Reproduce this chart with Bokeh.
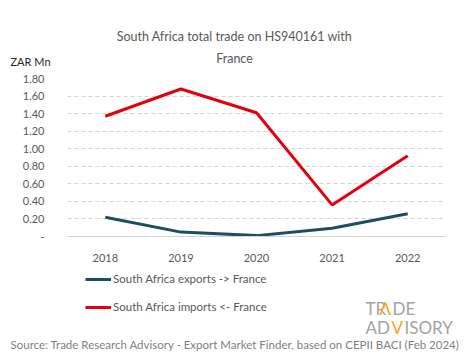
from bokeh.plotting import figure
from bokeh.models import (FactorRange, Range1d, Legend, LegendItem, Label,
                          FixedTicker, ColumnDataSource)
from bokeh.layouts import column
from bokeh.embed import file_html
from bokeh.resources import INLINE

# ---- data ----
years = ["2018", "2019", "2020", "2021", "2022"]
exports = [0.22, 0.05, 0.01, 0.095, 0.26]
imports = [1.37, 1.68, 1.41, 0.36, 0.92]
y_ticks = [0, 0.2, 0.4, 0.6, 0.8, 1.0, 1.2, 1.4, 1.6, 1.8]
y_tick_labels = ["-", "0.20", "0.40", "0.60", "0.80", "1.00", "1.20", "1.40", "1.60", "1.80"]
series_names = ["South Africa exports -> France", "South Africa imports <- France"]
title_lines = ["South Africa total trade on HS940161 with", "France"]
unit_label = "ZAR Mn"
source_text = "Source: Trade Research Advisory - Export Market Finder, based on CEPII BACI (Feb 2024)"

FONT = "Lato"
EXP_C = "#1B4E62"
IMP_C = "#E3000F"
TXT = "#595959"
W = 465


def no_align(f):
    try:
        f.frame_align = False
    except Exception:
        pass


def blank(h, **kw):
    f = figure(width=W, height=h, output_backend="svg", toolbar_location=None,
               x_axis_type=None, y_axis_type=None,
               min_border=0, min_border_left=0, min_border_right=0,
               min_border_top=0, min_border_bottom=0, **kw)
    f.outline_line_color = None
    f.xgrid.visible = False
    f.ygrid.visible = False
    no_align(f)
    return f


def lab(f, text, x, y, size, color, align="left", baseline="middle"):
    f.add_layout(Label(x=x, y=y, x_units="screen", y_units="screen", text=text,
                       text_font=FONT, text_font_size=size, text_color=color,
                       text_align=align, text_baseline=baseline))


src = ColumnDataSource(dict(x=years, exp=exports, imp=imports))

# ---- header ----
HH = 70
head = blank(HH)
lab(head, title_lines[0], 234, HH - 36, "12.5px", TXT, "center")
lab(head, title_lines[1], 234, HH - 58, "12.5px", TXT, "center")
lab(head, unit_label, 10, HH - 61, "11px", "#262626")

# ---- chart ----
CH = 194
p = figure(width=W, height=CH, x_range=FactorRange(*years), y_range=Range1d(0, 1.8),
           output_backend="svg", toolbar_location=None,
           min_border_left=67, min_border_right=20, min_border_top=8, min_border_bottom=26)
p.outline_line_color = None
no_align(p)
r_exp = p.line("x", "exp", source=src, line_color=EXP_C, line_width=3)
r_imp = p.line("x", "imp", source=src, line_color=IMP_C, line_width=3)

p.yaxis.ticker = FixedTicker(ticks=y_ticks)
p.yaxis.major_label_overrides = {t: l for t, l in zip(y_ticks, y_tick_labels)}
p.yaxis.axis_line_color = None
p.yaxis.major_tick_line_color = None
p.yaxis.minor_tick_line_color = None
p.yaxis.major_label_standoff = 17
p.yaxis.major_label_text_font = FONT
p.yaxis.major_label_text_font_size = "11px"
p.yaxis.major_label_text_color = TXT

p.xaxis.axis_line_color = "#d4d4d4"
p.xaxis.major_tick_line_color = None
p.xaxis.minor_tick_line_color = None
p.xaxis.major_label_standoff = 11
p.xaxis.major_label_text_font = FONT
p.xaxis.major_label_text_font_size = "11px"
p.xaxis.major_label_text_color = TXT

p.xgrid.grid_line_color = None
p.ygrid.ticker = FixedTicker(ticks=y_ticks[1:])
p.ygrid.grid_line_color = "#d4d4d4"
p.ygrid.grid_line_dash = "4 3"

# ---- footer: legend, logo, source ----
FH = 359 - HH - CH
foot = blank(FH, x_range=FactorRange(*years), y_range=Range1d(0, 1.8))
f_exp = foot.line("x", "exp", source=src, line_color=EXP_C, line_width=3, visible=False)
f_imp = foot.line("x", "imp", source=src, line_color=IMP_C, line_width=3, visible=False)
legend = Legend(items=[LegendItem(label=series_names[0], renderers=[f_exp], index=0),
                       LegendItem(label=series_names[1], renderers=[f_imp], index=0)],
                location=(85, 46), orientation="vertical",
                glyph_width=26, glyph_height=12, label_height=12, label_standoff=2, spacing=15,
                label_text_font=FONT, label_text_font_size="11.5px", label_text_color=TXT,
                inactive_fill_alpha=0,
                background_fill_alpha=0, border_line_color=None, padding=0, margin=0)
foot.add_layout(legend, "center")

GRAY = "#a3a3a3"
ORANGE = "#F5A623"
LS = "17px"
lab(foot, "TR", 365, FH - 44, LS, GRAY, "left", "alphabetic")
lab(foot, "\u039b", 379, FH - 44, LS, ORANGE, "left", "alphabetic")
lab(foot, "DE", 392, FH - 44, LS, GRAY, "left", "alphabetic")
lab(foot, "AD", 365, FH - 63, LS, GRAY, "left", "alphabetic")
lab(foot, "V", 391, FH - 63, LS, ORANGE, "left", "alphabetic")
lab(foot, "ISORY", 404, FH - 63, LS, GRAY, "left", "alphabetic")

lab(foot, source_text, 10, FH - 80, "11.5px", "#7f7f7f")

layout = column(head, p, foot, spacing=0)
open("out.html", "w").write(file_html(layout, INLINE))
